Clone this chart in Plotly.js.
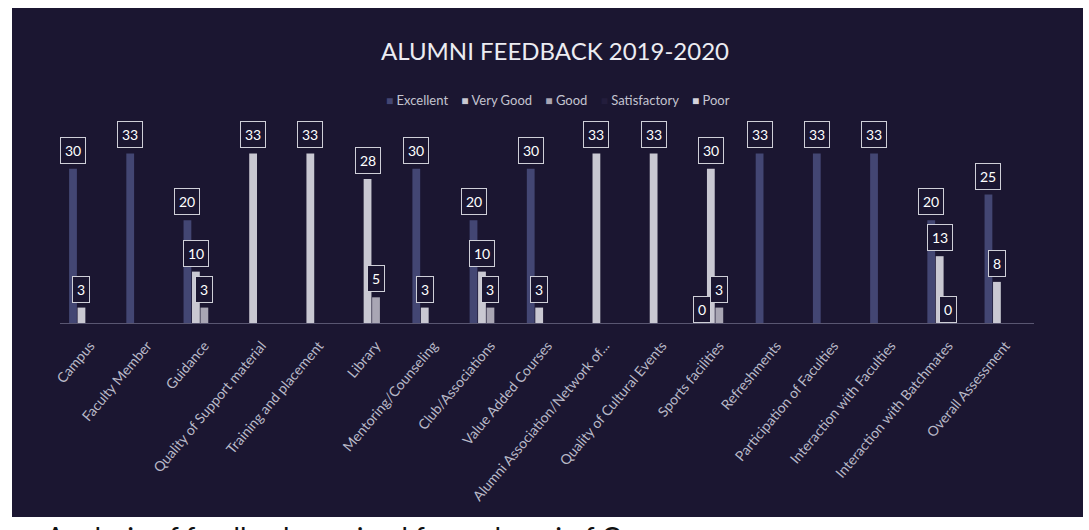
<!DOCTYPE html>
<html>
<head>
<meta charset="utf-8">
<script src="https://cdn.plot.ly/plotly-3.0.1.min.js"></script>
<style>html,body{margin:0;padding:0;background:#ffffff;}#chart{width:1089px;height:530px;}</style>
</head>
<body>
<div id="chart"></div>
<script>
const categories = ["Campus","Faculty Member","Guidance","Quality of Support material","Training and placement","Library","Mentoring/Counseling","Club/Associations","Value Added Courses","Alumni Association/Network of...","Quality of Cultural Events","Sports facilities","Refreshments","Participation of Faculties","Interaction with Faculties","Interaction with Batchmates","Overall Assessment"];
const seriesNames = ["Excellent","Very Good","Good","Satisfactory","Poor"];
const excellent    = [30, 33, 20, null, null, null, 30, 20, 30, null, null, 0, 33, 33, 33, 20, 25];
const veryGood     = [3, null, 10, 33, 33, 28, 3, 10, 3, 33, 33, 30, null, null, null, 13, 8];
const good         = [null, null, 3, null, null, 5, null, 3, null, null, null, 3, null, null, null, 0, null];
const satisfactory = [null, null, null, null, null, null, null, null, null, null, null, null, null, null, null, null, null];
const poor         = [null, null, null, null, null, null, null, null, null, null, null, null, null, null, null, null, null];
const seriesValues = [excellent, veryGood, good, satisfactory, poor];
const seriesColors = ["#434673", "#c9c8d2", "#a9a6b4", "#231d3c", "#d4d3dc"];
const chartTitle = "ALUMNI FEEDBACK 2019-2020";
const caption = "Analysis of feedback received from alumni of C";

const W = 1089, H = 530;
const M = {l: 60, r: 55, t: 138, b: 207};
const pw = W - M.l - M.r, ph = H - M.t - M.b;
const bg = "#1b1631";
const FONT = "Lato, 'Liberation Sans', sans-serif";
const bargap = 0.26;
const slot = (1 - bargap) / seriesNames.length;
const px2paperY = py => (H - M.b - py) / ph;
const px2paperX = px => (px - M.l) / pw;

const traces = seriesNames.map((name, i) => ({
  type: "bar",
  name: name,
  x: categories,
  y: seriesValues[i],
  marker: {color: seriesColors[i]},
  hoverinfo: "x+y+name"
}));

const annotations = [];
seriesValues.forEach((vals, i) => {
  vals.forEach((v, j) => {
    if (v === null) return;
    annotations.push({
      x: j + (i - (seriesNames.length - 1) / 2) * slot,
      y: v,
      xref: "x", yref: "y",
      text: String(v),
      showarrow: false,
      yanchor: "bottom",
      yshift: v === 0 ? 0 : 5,
      font: {family: FONT, size: 14, color: "#ffffff"},
      bgcolor: bg,
      bordercolor: "#cfcfd8",
      borderwidth: 1,
      borderpad: 4
    });
  });
});

// compact legend (Excel style) built from the series names and colours
const legendText = seriesNames.map((n, i) =>
  '<span style="color:' + seriesColors[i] + ';font-size:12px">■</span>&nbsp;' + n
).join("&nbsp;&nbsp;&nbsp;&nbsp;");
annotations.push({
  xref: "paper", yref: "paper",
  x: px2paperX(558), xanchor: "center",
  y: px2paperY(100), yanchor: "middle",
  text: legendText, showarrow: false,
  font: {family: FONT, size: 13, color: "#c4c4d0"}
});

annotations.push({
  xref: "paper", yref: "paper",
  x: px2paperX(44), xanchor: "left",
  y: px2paperY(518), yanchor: "top",
  text: caption, showarrow: false,
  font: {family: FONT, size: 28, color: "#111111"}
});

const layout = {
  width: W, height: H,
  margin: M,
  paper_bgcolor: "#ffffff",
  plot_bgcolor: "rgba(0,0,0,0)",
  barmode: "group",
  bargap: bargap,
  bargroupgap: 0.08,
  font: {family: FONT, color: "#c4c4d0"},
  title: {
    text: chartTitle,
    x: 555 / W, xanchor: "center",
    y: 1 - 52 / H, yanchor: "middle",
    font: {family: FONT, size: 24, color: "#ececf2"}
  },
  showlegend: false,
  xaxis: {
    type: "category",
    tickangle: -50,
    tickfont: {size: 14, color: "#b9b9c8"},
    showgrid: false,
    zeroline: false,
    showline: true,
    linecolor: "rgba(140,140,165,0.55)",
    linewidth: 1,
    ticks: "outside",
    ticklen: 8,
    tickcolor: "rgba(0,0,0,0)",
    fixedrange: true
  },
  yaxis: {
    range: [0, 36],
    visible: false,
    showgrid: false,
    zeroline: false,
    fixedrange: true
  },
  shapes: [{
    type: "rect", layer: "below",
    xref: "paper", yref: "paper",
    x0: px2paperX(12), x1: px2paperX(1083),
    y0: px2paperY(517), y1: px2paperY(8),
    fillcolor: bg, line: {width: 0}
  }],
  annotations: annotations
};

Plotly.newPlot("chart", traces, layout, {displayModeBar: false, staticPlot: true});
</script>
</body>
</html>
